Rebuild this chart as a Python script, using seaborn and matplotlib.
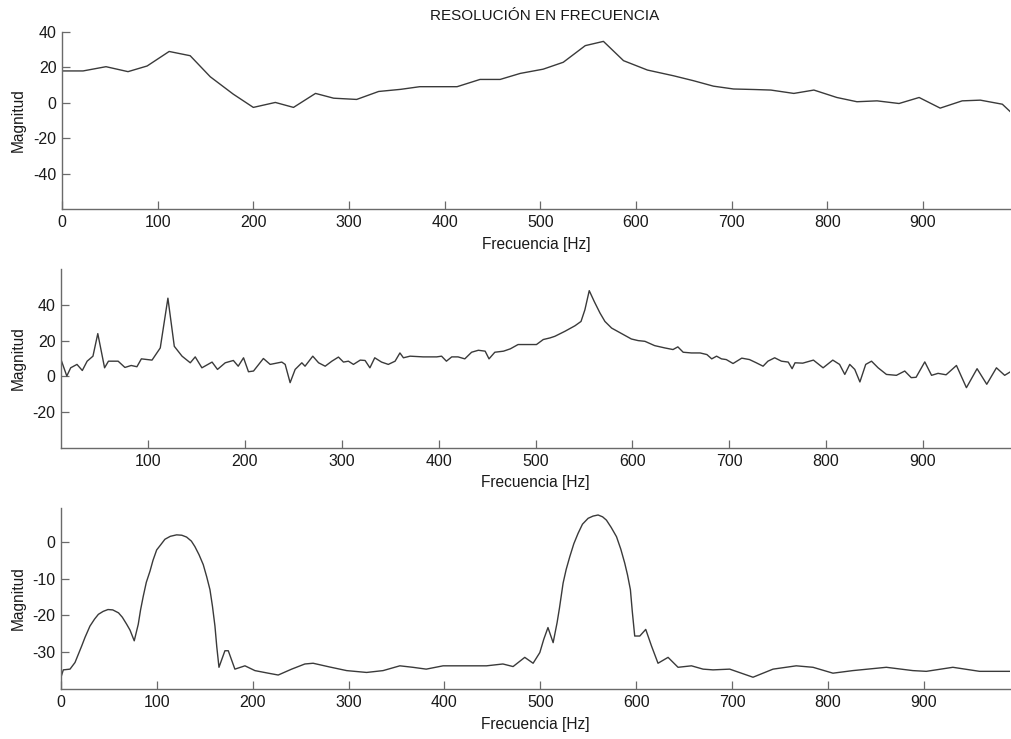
import numpy as np
import pandas as pd
import matplotlib
matplotlib.use("Agg")
import matplotlib.pyplot as plt
import seaborn as sns

# ---------------- data ----------------
f1 = [0, 22, 46, 69, 89, 112, 134, 155, 179, 200, 223, 242, 265, 284, 308, 331,
      354, 374, 396, 413, 437, 458, 479, 503, 524, 547, 566, 587, 612, 639, 660,
      681, 702, 724, 741, 765, 786, 810, 831, 852, 875, 896, 918, 941, 960, 983, 994]
m1 = [18, 18, 20.4, 17.6, 20.8, 29, 26.6, 14.7, 4.9, -2.6, 0.2, -2.6, 5.3, 2.6, 1.9, 6.4,
      7.6, 9.1, 9.1, 9.1, 13.2, 13.2, 16.6, 19, 22.9, 32.3, 34.7, 23.8, 18.5, 15.3, 12.5,
      9.4, 7.8, 7.5, 7.2, 5.3, 7.2, 3.0, 0.6, 1.1, -0.4, 3.0, -3.0, 1.1, 1.5, -0.8, -6.4]

f2 = [10, 16, 20, 26.5, 32, 37, 43, 48, 55, 59, 69, 76, 82.5, 88.4, 93, 104, 112.5,
      120.4, 127, 135, 143.5, 148.6, 155.5, 166, 171.6, 179.6, 188, 193, 198.5, 203.6,
      208.8, 219, 226, 238, 241.5, 246.6, 251.8, 258.7, 262, 270, 276, 282.8, 289.7,
      296.5, 301.7, 306.8, 312, 319, 324, 329, 334, 341, 348, 355, 360, 363.6, 370.5,
      384, 398, 403, 408, 413.5, 420, 427, 434, 441, 448, 452, 458, 467, 474, 482, 491,
      501, 508, 515, 520, 530.4, 540.8, 547, 551, 555.5, 560.7, 566.6, 571.7, 578.6,
      589, 599, 606, 613, 623, 633.6, 642, 647, 652.5, 661, 670, 677, 682, 687, 692,
      697, 704, 713, 721, 728, 735, 740, 747, 754, 761, 765, 768, 776, 787, 797, 807,
      814, 819.4, 824.5, 829.7, 835, 841, 847, 853.8, 862.4, 872.7, 881.3, 888, 893,
      902, 909, 915.7, 924, 934.7, 945, 956, 966, 976, 984.5, 991.7]
m2 = [9.4, 0.2, 4.8, 6.7, 3.3, 8.5, 11.3, 23.9, 4.8, 8.5, 8.5, 5.0, 6.1, 5.4, 9.8, 9.1,
      15.9, 43.7, 16.8, 11.3, 7.6, 10.9, 4.8, 8.0, 3.9, 7.6, 8.9, 5.7, 10.4, 2.6,
      3.0, 10.0, 6.7, 8.0, 6.7, -3.5, 3.9, 7.6, 5.7, 11.3, 7.6, 5.7, 8.5,
      10.8, 8.0, 8.5, 6.7, 9.1, 8.9, 4.8, 10.4, 8.0, 6.7, 8.5, 13.1, 10.4, 11.3,
      10.9, 10.9, 11.3, 8.5, 10.9, 10.9, 9.8, 13.5, 14.6, 14.1, 9.8, 13.5, 14.1, 15.4, 17.8, 17.8,
      17.8, 20.6, 21.5, 22.4, 25.2, 28.3, 30.7, 37.2, 47.9, 41.8, 35.4, 30.7, 27.0,
      23.9, 20.9, 20.0, 19.6, 17.2, 15.9, 15.0, 16.5, 13.5, 13.1, 13.1, 12.2, 9.8, 11.3, 9.8,
      9.4, 7.2, 10.2, 9.4, 7.6, 5.7, 8.5, 10.4, 8.5, 8.0, 4.3, 7.6, 7.4, 9.1, 4.8, 9.1,
      6.7, 1.1, 6.7, 3.9, -3.1, 6.7, 8.5, 4.8, 1.1, 0.6, 3.0, -0.7, -0.5,
      8.1, 0.6, 1.7, 0.9, 6.1, -6.3, 4.3, -4.4, 4.8, 0.6, 3.0]

f3 = [0, 2.4, 9.4, 14.6, 21.6, 25, 30.2, 35, 39, 44, 49, 54, 60, 64, 68.5, 72, 76.4,
      80.6, 83, 85.8, 89, 92.8, 96, 99.8, 104, 108.4, 114, 120.6, 126, 131, 136,
      139.7, 144, 148.4, 152, 155.4, 158, 160.6, 162.5, 164.8, 171, 174.5, 181.4, 191.9,
      202.3, 216.2, 226.6, 240.6, 254.4, 263, 280, 298, 318.8, 336, 353.5, 367, 381,
      398.6, 423, 443.9, 461, 471.6, 483.8, 492.5, 499.5, 503.6, 508, 513.4, 517.5,
      520, 523.8, 527, 530.8, 535, 539.4, 544, 549.9, 555, 560.3, 565, 569, 574,
      579.5, 584, 588.1, 591, 594, 596, 598.5, 603.8, 610,
      616, 622.8, 633.3, 643.7, 657.7, 669.8, 680.2, 697.6, 721.9, 742.8, 767, 784.5,
      805.3, 826, 861, 888.7, 902.7, 930.4, 958.3, 991.7]
m3 = [-36.8, -34.8, -34.6, -32.8, -28.3, -26.0, -22.9, -21.0, -19.7, -18.9, -18.4,
      -18.5, -19.3, -20.5, -22.4, -24.0, -26.9,
      -22.4, -18.5, -14.8, -11.0, -8.0, -5.0, -2.2, -0.8, 0.7, 1.5, 1.9, 1.8, 1.3, 0.2,
      -1.3, -3.5, -6.2, -9.5, -13.0, -17.5, -22.9, -28.5, -34.1, -29.6,
      -29.6, -34.6, -33.7, -35.0, -35.7, -36.2, -34.6, -33.2, -33.0, -34.0, -35.0, -35.5,
      -35.0, -33.7, -34.1, -34.6, -33.7, -33.7, -33.7, -33.2, -33.9, -31.4, -33.0,
      -30.1, -26.5, -23.3, -27.4, -22.0, -18.0, -11.2, -7.5, -4.0, -0.5, 2.3, 4.8, 6.4,
      7.0, 7.3, 6.8, 5.9, 3.9, 1.4, -2.0, -5.8, -9.0,
      -13.0, -19.0, -25.6, -25.6, -23.8, -28.3, -33.0, -31.4, -34.1, -33.7, -34.6, -34.8,
      -34.6, -36.8, -34.6, -33.7, -34.1, -35.7, -35.0, -34.1, -35.0, -35.2, -34.1,
      -35.2, -35.2]

title = "RESOLUCIÓN EN FRECUENCIA"
xlabel = "Frecuencia [Hz]"
ylabel = "Magnitud"
xticks1 = [0, 100, 200, 300, 400, 500, 600, 700, 800, 900]
xticks2 = [100, 200, 300, 400, 500, 600, 700, 800, 900]
yticks1 = [-40, -20, 0, 20, 40]
yticks2 = [-20, 0, 20, 40]
yticks3 = [-30, -20, -10, 0]

# ---------------- styling ----------------
sns.set_theme(style="ticks")
plt.rcParams["font.family"] = ["Liberation Sans", "DejaVu Sans"]
plt.rcParams["axes.unicode_minus"] = False

line_col = "#3a3a3a"
axis_col = "#6a6a6a"
text_col = "#1a1a1a"

fig = plt.figure(figsize=(10.12, 7.39), dpi=100)
W, H = 1012.0, 739.0

def make_ax(left_px, top_px, bottom_px, right_px=1010):
    return fig.add_axes([left_px / W, 1 - bottom_px / H,
                         (right_px - left_px) / W, (bottom_px - top_px) / H])

panels = [
    (make_ax(62, 32, 209), f1, m1, (0, 991), (-60, 40), xticks1, yticks1),
    (make_ax(61, 269, 448), f2, m2, (10, 990), (-40, 60), xticks2, yticks2),
    (make_ax(61, 508, 689), f3, m3, (0, 990), (-40, 9.2), xticks1, yticks3),
]

for ax, fx, my, xl, yl, xt, yt in panels:
    df = pd.DataFrame({"f": fx, "m": my})
    sns.lineplot(data=df, x="f", y="m", ax=ax, color=line_col, linewidth=1.0,
                 estimator=None, sort=False)
    ax.set_xlim(*xl)
    ax.set_ylim(*yl)
    ax.set_xticks(xt)
    ax.set_yticks(yt)
    ax.set_xlabel(xlabel, fontsize=11.2, color=text_col, labelpad=5)
    ax.set_ylabel(ylabel, fontsize=11.2, color=text_col, labelpad=5)
    sns.despine(ax=ax)
    for s in ("left", "bottom"):
        ax.spines[s].set_color(axis_col)
        ax.spines[s].set_linewidth(1.0)
    ax.tick_params(direction="in", length=6, width=0.9, color=axis_col,
                   labelsize=11.5, labelcolor=text_col, pad=4)
    ax.set_facecolor("white")

fig.text(545 / W, 1 - 16 / H, title, ha="center", va="center",
         fontsize=11, color=text_col)

fig.savefig("out.png", dpi=100, facecolor="white")
